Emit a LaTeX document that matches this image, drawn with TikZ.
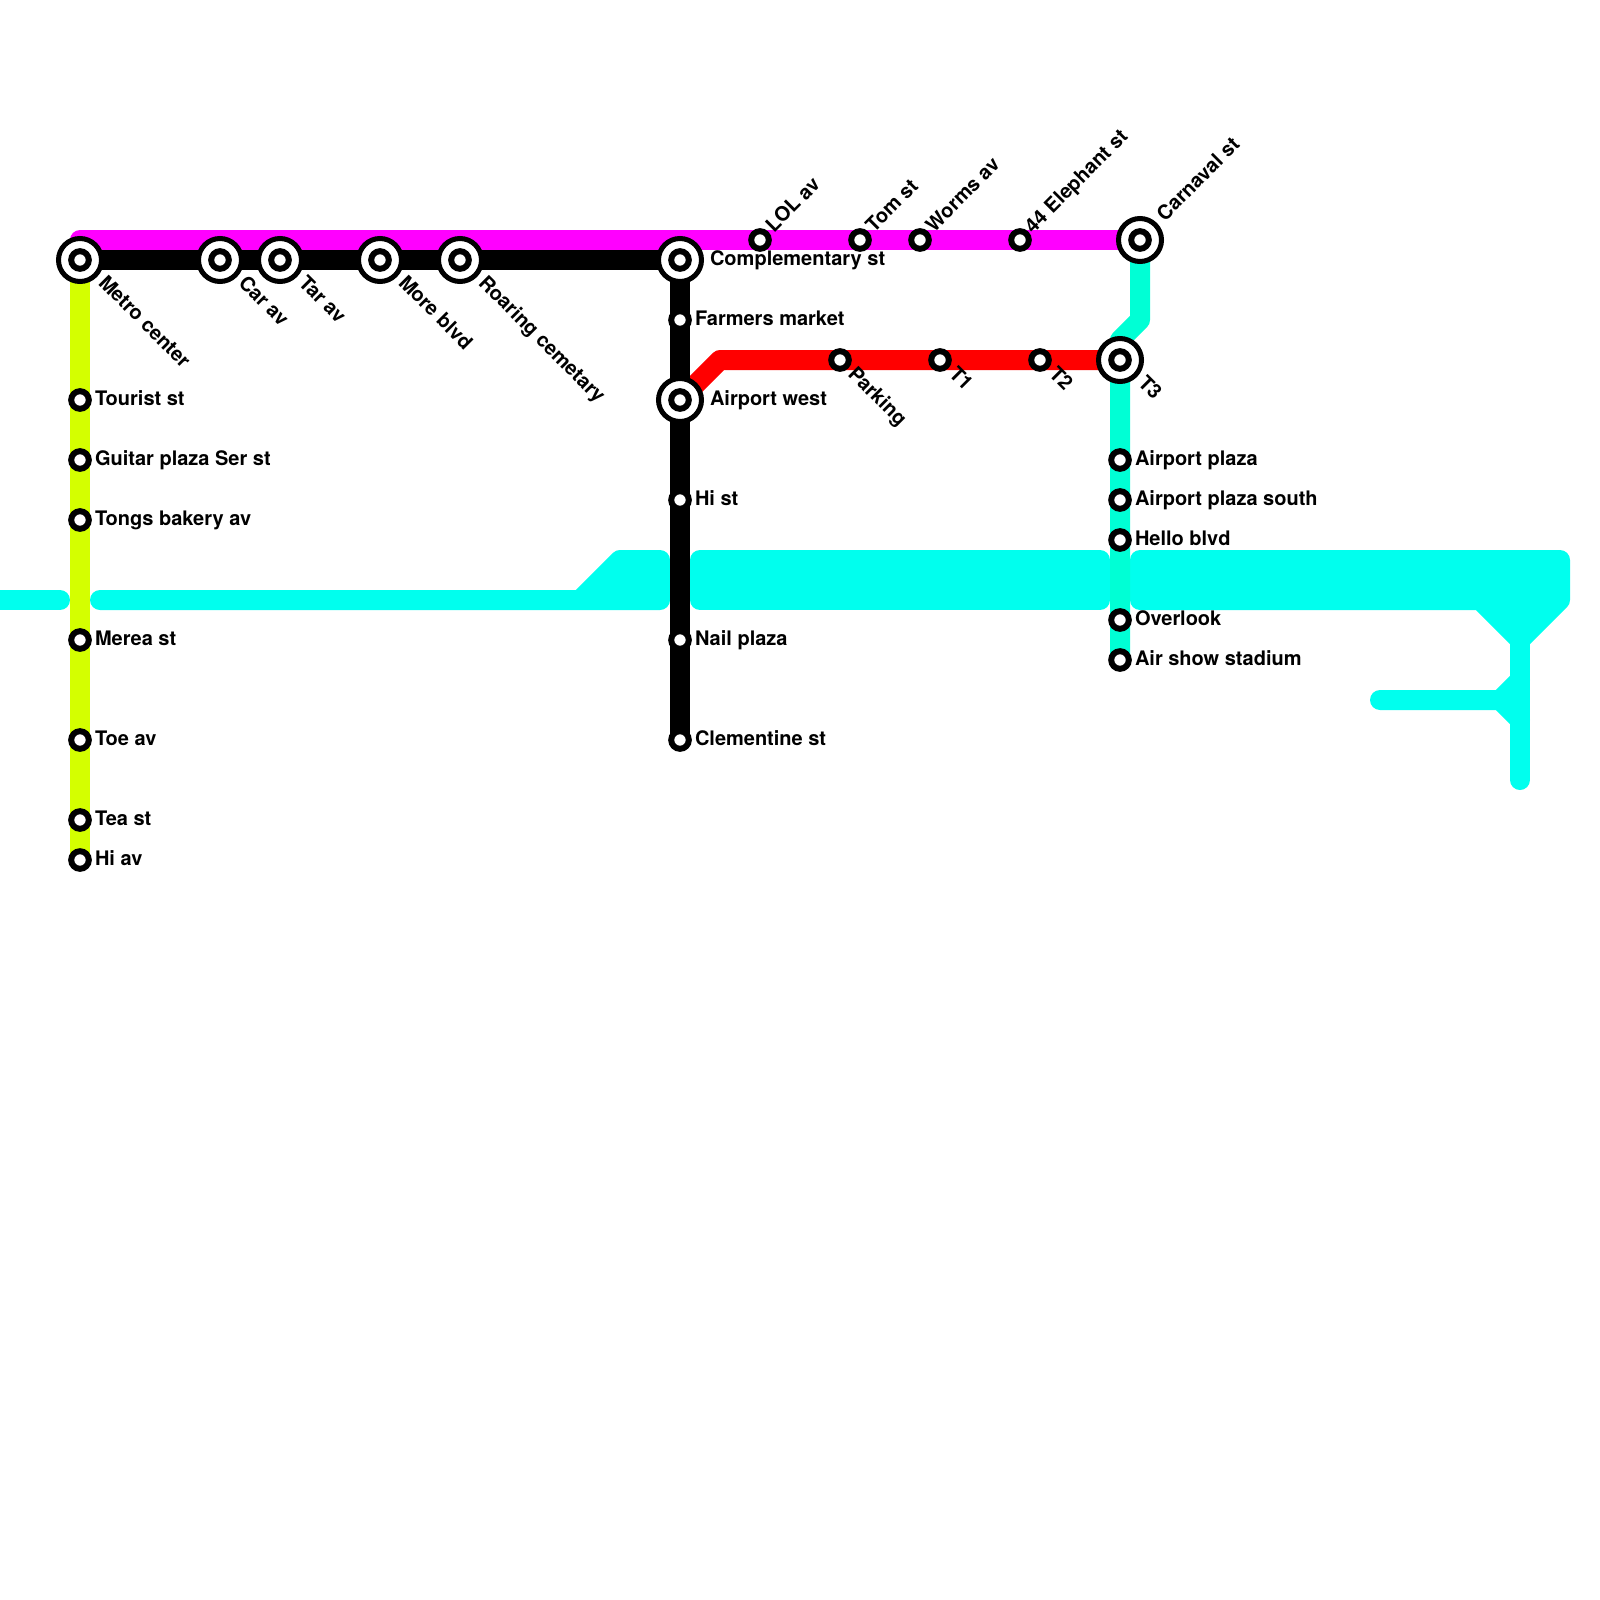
\documentclass[tikz,border=0pt]{standalone}
\usepackage{fontspec}
\setmainfont{TeX Gyre Heros}
\definecolor{cyanline}{HTML}{00FFEE}
\definecolor{tealline}{HTML}{00FFD5}
\definecolor{yellowline}{HTML}{D4FF00}
\definecolor{magline}{HTML}{FF00FF}
\tikzset{
  x=1pt,y=-1pt,
  metro/.style={line width=20pt,line cap=round,line join=round},
  block/.style={metro,draw=cyanline,fill=cyanline},
  stop/.style={circle,draw=black,fill=white,line width=6pt,minimum size=17.6pt,inner sep=0pt,outer sep=0pt},
  hub/.style={circle,draw=black,fill=white,line width=5pt,minimum size=43pt,inner sep=0pt,outer sep=0pt},
  lab/.style={font=\fontsize{20}{20}\selectfont\bfseries,text=black,inner sep=0pt,outer sep=0pt},
  labE/.style={lab,anchor=base west},
  labD/.style={lab,anchor=base west,rotate=-45},
  labU/.style={lab,anchor=base west,rotate=45},
}
\newcommand{\stn}[3]{\coordinate (#1) at (#2,#3);}
\newcommand{\hubstn}[1]{\node[hub] (#1-ring) at (#1) {}; \node[stop] (#1-stop) at (#1) {};}
\newcommand{\stopstn}[1]{\node[stop] (#1-stop) at (#1) {};}
\begin{document}
\begin{tikzpicture}
\useasboundingbox (0,0) rectangle (1600,1600);
% stations
\stn{metro}{80}{260}\stn{car}{220}{260}\stn{tar}{280}{260}\stn{more}{380}{260}\stn{roar}{460}{260}
\stn{compl}{680}{260}\stn{farm}{680}{320}\stn{awest}{680}{400}\stn{hist}{680}{500}\stn{nail}{680}{640}\stn{clem}{680}{740}
\stn{tour}{80}{400}\stn{guit}{80}{460}\stn{tong}{80}{520}\stn{mere}{80}{640}\stn{toe}{80}{740}\stn{tea}{80}{820}\stn{hiav}{80}{860}
\stn{magst}{80}{240}\stn{lol}{760}{240}\stn{tom}{860}{240}\stn{worm}{920}{240}\stn{elep}{1020}{240}\stn{carn}{1140}{240}
\stn{redb}{720}{360}\stn{park}{840}{360}\stn{tone}{940}{360}\stn{ttwo}{1040}{360}\stn{tthr}{1120}{360}
\stn{teala}{1140}{320}\stn{tealb}{1120}{340}\stn{apl}{1120}{460}\stn{aps}{1120}{500}\stn{hell}{1120}{540}\stn{over}{1120}{620}\stn{airs}{1120}{660}
% cyan line pieces
\stn{ca}{-20}{600}\stn{cb}{60}{600}
\stn{cc}{100}{600}\stn{cd}{580}{600}\stn{ce}{620}{560}\stn{cf}{660}{560}\stn{cg}{660}{600}
\stn{ch}{700}{560}\stn{ci}{1100}{560}\stn{cj}{1100}{600}\stn{ck}{700}{600}
\stn{cl}{1140}{560}\stn{cm}{1560}{560}\stn{cn}{1560}{600}\stn{co}{1520}{640}\stn{cp}{1480}{600}\stn{cq}{1140}{600}
\stn{cr}{1520}{780}\stn{cs}{1380}{700}\stn{ct}{1500}{700}\stn{cu}{1520}{680}\stn{cv}{1520}{720}
\draw[metro,cyanline] (ca) -- (cb);
\draw[block] (cc) -- (cd) -- (ce) -- (cf) -- (cg) -- cycle;
\draw[block] (ch) -- (ci) -- (cj) -- (ck) -- cycle;
\draw[block] (cl) -- (cm) -- (cn) -- (co) -- (cp) -- (cq) -- cycle;
\draw[metro,cyanline] (co) -- (cr);
\draw[metro,cyanline] (cs) -- (ct) -- (cu);
\draw[metro,cyanline] (ct) -- (cv);
% lines
\draw[metro,yellowline] (metro) -- (hiav);
\draw[metro,magline] (magst) -- (carn);
\draw[metro,red] (awest) -- (redb) -- (tthr);
\draw[metro,black] (metro) -- (compl) -- (clem);
\draw[metro,tealline] (carn) -- (teala) -- (tealb) -- (airs);
% station markers
\hubstn{metro}\hubstn{car}\hubstn{tar}\hubstn{more}\hubstn{roar}\hubstn{compl}\hubstn{awest}\hubstn{carn}\hubstn{tthr}
\stopstn{farm}\stopstn{hist}\stopstn{nail}\stopstn{clem}
\stopstn{tour}\stopstn{guit}\stopstn{tong}\stopstn{mere}\stopstn{toe}\stopstn{tea}\stopstn{hiav}
\stopstn{lol}\stopstn{tom}\stopstn{worm}\stopstn{elep}
\stopstn{park}\stopstn{tone}\stopstn{ttwo}
\stopstn{apl}\stopstn{aps}\stopstn{hell}\stopstn{over}\stopstn{airs}
% labels
\node[labD] (lmetro) at (97.5,284) {Metro center};
\node[labD] (lcar) at (237.5,284) {Car av};
\node[labD] (ltar) at (297.5,284) {Tar av};
\node[labD] (lmore) at (397.5,284) {More blvd};
\node[labD] (lroar) at (477.5,284) {Roaring cemetary};
\node[labE] (lcompl) at (710,265) {Complementary st};
\node[labE] (lawest) at (710,405) {Airport west};
\node[labE] (lfarm) at (695,325) {Farmers market};
\node[labE] (lhist) at (695,505) {Hi st};
\node[labE] (lnail) at (695,645) {Nail plaza};
\node[labE] (lclem) at (695,745) {Clementine st};
\node[labE] (ltour) at (95,405) {Tourist st};
\node[labE] (lguit) at (95,465) {Guitar plaza Ser st};
\node[labE] (ltong) at (95,525) {Tongs bakery av};
\node[labE] (lmere) at (95,645) {Merea st};
\node[labE] (ltoe) at (95,745) {Toe av};
\node[labE] (ltea) at (95,825) {Tea st};
\node[labE] (lhiav) at (95,865) {Hi av};
\node[labU] (llol) at (774,233) {LOL av};
\node[labU] (ltom) at (874,233) {Tom st};
\node[labU] (lworm) at (934,233) {Worms av};
\node[labU] (lelep) at (1033,234) {44 Elephant st};
\node[labU] (lcarn) at (1165,222) {Carnaval st};
\node[labD] (lpark) at (847,375) {Parking};
\node[labD] (ltone) at (948,375) {T1};
\node[labD] (lttwo) at (1048,375) {T2};
\node[labD] (ltthr) at (1137,384) {T3};
\node[labE] (lapl) at (1135,465) {Airport plaza};
\node[labE] (laps) at (1135,505) {Airport plaza south};
\node[labE] (lhell) at (1135,545) {Hello blvd};
\node[labE] (lover) at (1135,625) {Overlook};
\node[labE] (lairs) at (1135,665) {Air show stadium};
\end{tikzpicture}
\end{document}
